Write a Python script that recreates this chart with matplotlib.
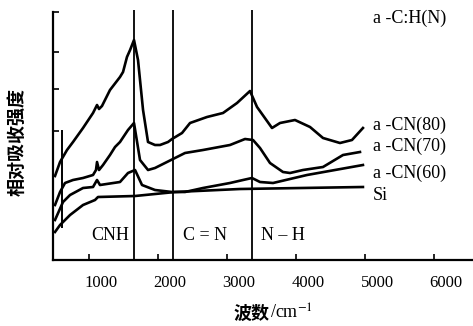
import matplotlib
matplotlib.use("Agg")
import matplotlib.pyplot as plt
from matplotlib.transforms import ScaledTranslation

plt.rcParams['font.family'] = ['Liberation Serif', 'DejaVu Serif']
plt.rcParams['mathtext.fontset'] = 'stix'

# espectros (numero de onda cm-1, intensidad relativa)
wn_cn80 = [507, 580, 681, 768, 913, 1058, 1116, 1145, 1188, 1304, 1449, 1493, 1550, 1595, 1652,
           1710, 1783, 1855, 1956, 2029, 2145, 2203, 2348, 2464, 2710, 2942, 3145, 3333, 3435,
           3652, 3768, 3985, 4203, 4391, 4637, 4811, 4970]
int_cn80 = [84, 98, 110, 118, 132, 147, 155, 151, 154, 170, 183, 188, 203, 210, 220,
            200, 150, 118, 115, 115, 118, 121, 127, 137, 143, 147, 157, 169, 153,
            132, 137, 140, 133, 122, 117, 120, 132]

wn_cn70 = [507, 580, 652, 768, 913, 1058, 1101, 1116, 1145, 1203, 1304, 1377, 1449, 1565, 1652,
           1739, 1855, 1956, 2101, 2391, 2652, 3043, 3261, 3377, 3478, 3623, 3811, 3913, 4101,
           4391, 4681, 4927]
int_cn70 = [55, 68, 77, 80, 82, 85, 90, 98, 90, 95, 105, 113, 118, 130, 137,
            100, 90, 92, 97, 107, 110, 115, 121, 120, 112, 97, 88, 87, 90,
            93, 105, 108]

wn_cn60 = [507, 623, 725, 913, 1058, 1116, 1159, 1449, 1565, 1667, 1768, 1956, 2203, 2391,
           2652, 3043, 3232, 3362, 3478, 3667, 4159, 4970]
int_cn60 = [40, 58, 65, 72, 73, 80, 75, 78, 87, 90, 75, 70, 68, 68,
            72, 77, 80, 82, 78, 77, 85, 95]

wn_si = [507, 580, 725, 913, 1087, 1130, 1667, 2246, 3188, 4970]
int_si = [28, 35, 45, 55, 60, 63, 64, 68, 71, 73]

spike_wn = 610
spike_range = (32, 130)

bandas = [1650, 2210, 3360]
bandas_txt = ["CNH", "C = N", "N \u2013 H"]
bandas_txt_x = [1304, 2681, 3811]

etiquetas = ["a -C:H(N)", "a -CN(80)", "a -CN(70)", "a -CN(60)", "Si"]
etiquetas_y = [242, 135, 114, 87, 65]

xticks = [1000, 2000, 3000, 4000, 5000, 6000]
yticks = [129, 171, 208, 248]

fig = plt.figure(figsize=(4.73, 3.26), dpi=100)
ax = fig.add_axes([53 / 473, 66 / 326, 420 / 473, 250 / 326])

for wn, inten in [(wn_cn80, int_cn80), (wn_cn70, int_cn70), (wn_cn60, int_cn60), (wn_si, int_si)]:
    ax.plot(wn, inten, color='black', lw=1.9, solid_joinstyle='round')
ax.vlines(spike_wn, *spike_range, color='black', lw=1.4)

for b, t, tx in zip(bandas, bandas_txt, bandas_txt_x):
    ax.axvline(b, color='black', lw=1.3)
    ax.text(tx, 24, t, ha='center', va='center', fontsize=13)

for t, yy in zip(etiquetas, etiquetas_y):
    ax.text(5116, yy, t, ha='left', va='center', fontsize=13)

ax.set_xlim(478, 6565)
ax.set_ylim(0, 250)
ax.spines['top'].set_visible(False)
ax.spines['right'].set_visible(False)
ax.spines['left'].set_linewidth(1.6)
ax.spines['bottom'].set_linewidth(1.6)
ax.spines['left'].set_bounds(0, 248)

ax.set_xticks(xticks)
ax.set_xticklabels([str(v) for v in xticks], fontsize=12)
ax.set_yticks(yticks)
ax.set_yticklabels([])
ax.tick_params(axis='x', direction='in', length=4, width=1.2, pad=11)
ax.tick_params(axis='y', direction='in', length=4, width=1.2)
desplazar = ScaledTranslation(12 / 100, 0, fig.dpi_scale_trans)
for lab in ax.get_xticklabels():
    lab.set_transform(lab.get_transform() + desplazar)

fig.text(17 / 473, 1 - 142 / 326, "相对吸收强度", rotation=90, ha='center', va='center',
         fontsize=13, fontweight='bold', family=['Noto Sans CJK SC', 'DejaVu Sans'])
fig.text(233 / 473, 1 - 313 / 326, "波数", ha='left', va='center',
         fontsize=13, fontweight='bold', family=['Noto Sans CJK SC', 'DejaVu Sans'])
fig.text(270 / 473, 1 - 313 / 326, "/cm$^{-1}$", ha='left', va='center', fontsize=13)

fig.savefig("out.png", dpi=100)
